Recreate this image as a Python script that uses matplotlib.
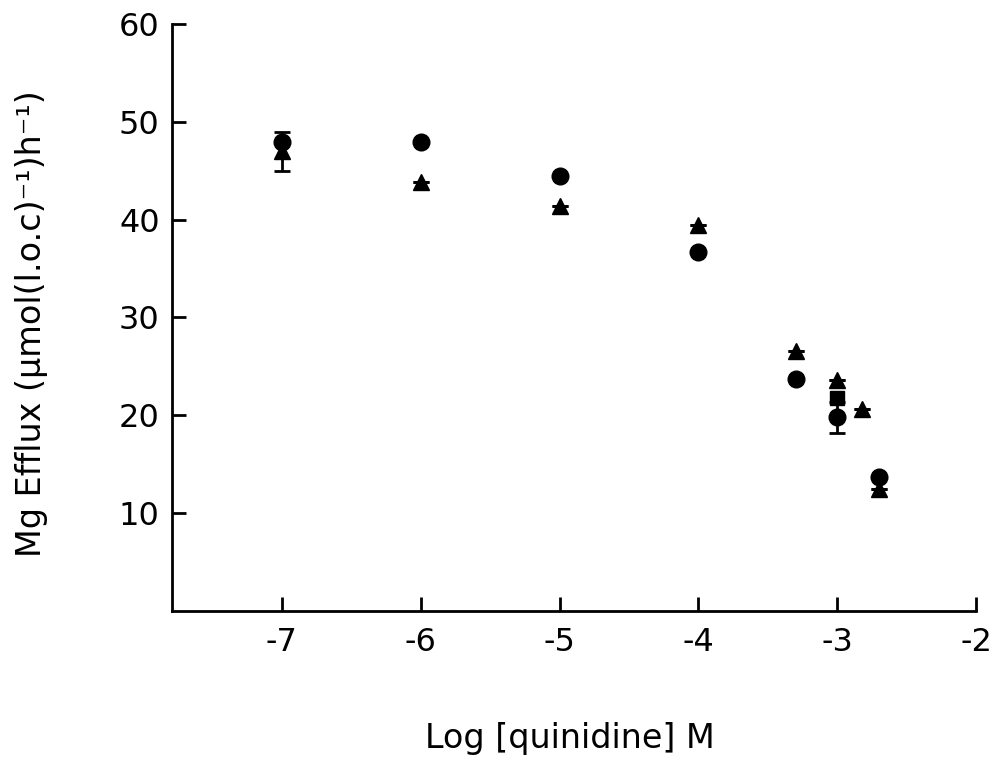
import matplotlib
matplotlib.use("Agg")
import matplotlib.pyplot as plt

plt.rcParams['font.family'] = ['DejaVu Sans']

# log concentration of quinidine (M)
circle_x = [-7, -6, -5, -4, -3.3, -3, -2.7]
circle_y = [48, 48, 44.5, 36.7, 23.7, 19.8, 13.7]
circle_err = [0, 0, 0, 0, 0, 1.6, 0]

triangle_x = [-7, -6, -5, -4, -3.3, -3, -2.82, -2.7]
triangle_y = [47, 43.9, 41.4, 39.5, 26.6, 23.6, 20.6, 12.5]
triangle_err = [2, 0, 0, 0, 0, 0, 0, 0]

square_x = [-3]
square_y = [21.8]

xticks = [-7, -6, -5, -4, -3, -2]
yticks = [10, 20, 30, 40, 50, 60]

fig = plt.figure(figsize=(9.95, 7.81), dpi=100)
ax = fig.add_axes([0.173, 0.218, 0.808, 0.751])

ms = 12
ax.errorbar(triangle_x, triangle_y, yerr=triangle_err, fmt='^', color='k',
            markersize=ms, capsize=6, elinewidth=2, capthick=2)
ax.errorbar(circle_x, circle_y, yerr=circle_err, fmt='o', color='k',
            markersize=ms, capsize=6, elinewidth=2, capthick=2)
ax.plot(square_x, square_y, 's', color='k', markersize=10.5)

ax.set_xlim(-7.79, -2)
ax.set_ylim(0, 60)
ax.set_xticks(xticks)
ax.set_xticklabels([str(t) for t in xticks])
ax.set_yticks(yticks)

for side in ['top', 'right']:
    ax.spines[side].set_visible(False)
for side in ['left', 'bottom']:
    ax.spines[side].set_linewidth(2)

ax.tick_params(direction='in', length=10, width=2, labelsize=23)
ax.tick_params(axis='x', pad=12)
ax.tick_params(axis='y', pad=9)

ax.set_xlabel('Log [quinidine] M', fontsize=24)
ax.set_ylabel('Mg Efflux (µmol(l.o.c)⁻¹)h⁻¹)', fontsize=24)
ax.xaxis.set_label_coords(0.495, -0.19)
ax.yaxis.set_label_coords(-0.155, 0.49)

fig.savefig('out.png', dpi=100, facecolor='white')
